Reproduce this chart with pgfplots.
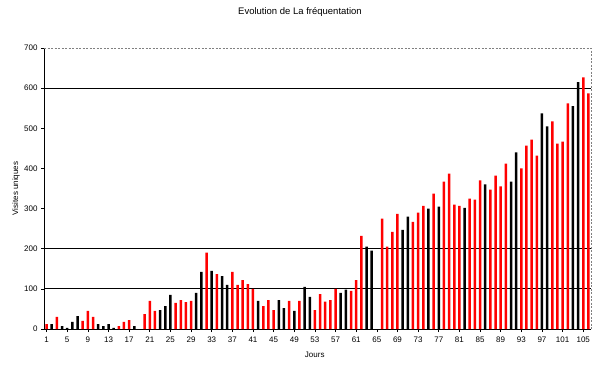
\documentclass[border=0pt]{standalone}
\usepackage{pgfplots}
\pgfplotsset{compat=1.18}
\usepackage{fontspec}
\setmainfont{Liberation Sans}
\begin{document}
\begin{tikzpicture}
\path[use as bounding box] (0,0) rectangle (600pt,373pt);
\begin{axis}[
  at={(44pt,44pt)}, anchor=south west,
  scale only axis, width=547pt, height=281pt,
  xmin=0.5, xmax=106.5, ymin=0, ymax=700,
  axis x line*=bottom, axis y line*=left,
  axis line style={black, line width=0.8pt, -},
  xtick={1,5,...,105},
  ytick={0,100,...,700},
  extra y ticks={100,200,600},
  extra y tick labels={},
  extra y tick style={grid=major, major grid style={black, line width=0.9pt}, major tick length=0pt},
  tick align=outside, major tick length=3pt,
  tick style={black, line width=0.6pt},
  /pgf/number format/assume math mode=true,
  tick label style={font=\fontsize{8}{9}\selectfont},
  xticklabel style={yshift=-1pt},
  ylabel={Visites uniques},
  ylabel style={font=\fontsize{8}{9}\selectfont, at={(axis description cs:-0.051,0.5)}, anchor=center},
  xlabel={Jours},
  xlabel style={font=\fontsize{8}{9}\selectfont, at={(axis description cs:0.495,-0.093)}, anchor=center},
  title={Evolution de La fr\'equentation},
  title style={font=\fontsize{9.5}{11}\selectfont, at={(axis description cs:0.468,1.107)}, anchor=center},
  ybar, bar width=2.5pt, bar shift=0pt,
  clip=false,
  after end axis/.code={\draw[gray, dash pattern=on 2pt off 1.5pt, line width=0.6pt] (rel axis cs:0,1) -- (rel axis cs:1,1) -- (rel axis cs:1,0);},
]
% black bars
\addplot[fill=black, draw=none] coordinates {
(2,12) (4,7) (5,3) (6,18) (7,32) (11,12) (12,7) (13,12) (14,3) (18,7)
(23,47) (24,57) (25,85) (30,90) (31,142) (33,145) (35,132) (36,110)
(42,70) (46,72) (47,52) (49,45) (51,105) (52,80) (58,90) (59,98)
(63,205) (64,195) (70,247) (71,280) (75,300) (77,305) (82,302) (86,360)
(91,367) (92,440) (97,537) (98,505) (103,555) (104,615)
};
% red bars
\addplot[fill=red, draw=none] coordinates {
(1,12) (3,30) (8,20) (9,45) (10,30) (15,7) (16,18) (17,22)
(20,37) (21,70) (22,45) (26,65) (27,72) (28,67) (29,70) (32,190) (34,137)
(37,142) (38,110) (39,122) (40,112) (41,100) (43,57) (44,72) (45,47) (48,70) (50,70)
(53,47) (54,87) (55,68) (56,72) (57,100) (60,95) (61,122) (62,232)
(66,275) (67,205) (68,242) (69,287) (72,267) (73,290) (74,307) (76,337)
(78,367) (79,387) (80,310) (81,307) (83,325) (84,322) (85,370) (87,347)
(88,382) (89,355) (90,412) (93,400) (94,457) (95,472) (96,432)
(99,517) (100,462) (101,467) (102,562) (105,627) (106,587)
};
\end{axis}
\end{tikzpicture}
\end{document}
